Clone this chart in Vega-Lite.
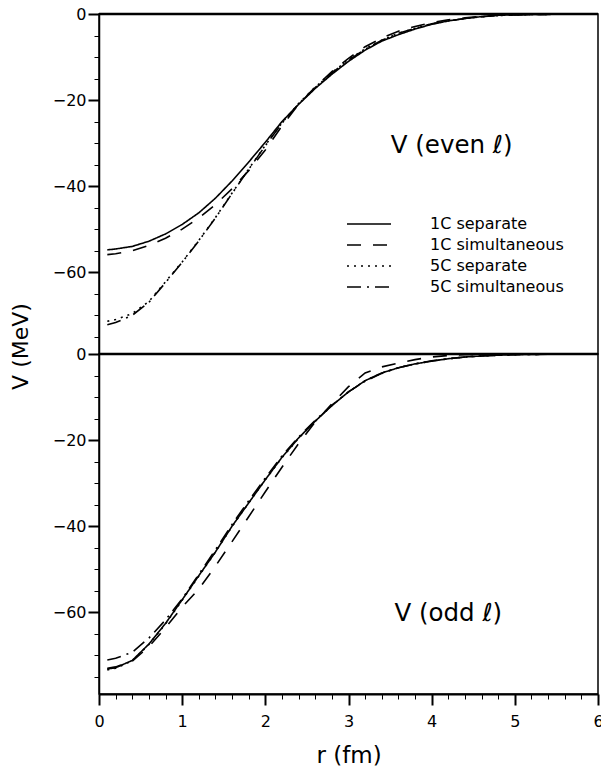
{
  "$schema": "https://vega.github.io/schema/vega-lite/v6.json",
  "autosize": {"type": "pad"},
  "padding": {"left": 8, "top": 5, "right": 2, "bottom": 0},
  "background": "white",
  "config": {
    "font": "DejaVu Sans",
    "view": {"stroke": "black", "strokeWidth": 1.5},
    "axis": {"grid": false, "domainColor": "black", "domainWidth": 1.5, "tickColor": "black", "labelColor": "black", "titleColor": "black", "labelFont": "DejaVu Sans", "titleFont": "DejaVu Sans", "labelFontSize": 16, "titleFontSize": 22, "titleFontWeight": "normal", "tickCount": 100},
    "legend": {"labelFont": "DejaVu Sans", "labelFontSize": 16, "labelColor": "black"}
  },
  "datasets": {
    "even": [
      {"s": "1C separate", "r": 0.1, "V": -54.8}, {"s": "1C separate", "r": 0.2, "V": -54.6}, {"s": "1C separate", "r": 0.4, "V": -54.0}, {"s": "1C separate", "r": 0.6, "V": -52.8}, {"s": "1C separate", "r": 0.8, "V": -51.1}, {"s": "1C separate", "r": 1.0, "V": -48.9}, {"s": "1C separate", "r": 1.2, "V": -46.2}, {"s": "1C separate", "r": 1.4, "V": -42.8}, {"s": "1C separate", "r": 1.6, "V": -38.8}, {"s": "1C separate", "r": 1.8, "V": -34.4}, {"s": "1C separate", "r": 2.0, "V": -29.8}, {"s": "1C separate", "r": 2.2, "V": -25.0}, {"s": "1C separate", "r": 2.4, "V": -21.0}, {"s": "1C separate", "r": 2.6, "V": -17.3}, {"s": "1C separate", "r": 2.8, "V": -14.0}, {"s": "1C separate", "r": 3.0, "V": -11.0}, {"s": "1C separate", "r": 3.2, "V": -8.4}, {"s": "1C separate", "r": 3.4, "V": -6.3}, {"s": "1C separate", "r": 3.6, "V": -4.8}, {"s": "1C separate", "r": 3.8, "V": -3.5}, {"s": "1C separate", "r": 4.0, "V": -2.4}, {"s": "1C separate", "r": 4.2, "V": -1.6}, {"s": "1C separate", "r": 4.4, "V": -1.05}, {"s": "1C separate", "r": 4.6, "V": -0.6}, {"s": "1C separate", "r": 4.8, "V": -0.3}, {"s": "1C separate", "r": 5.0, "V": -0.18}, {"s": "1C separate", "r": 5.4, "V": -0.07}, {"s": "1C separate", "r": 6.0, "V": -0.02},
      {"s": "1C simultaneous", "r": 0.1, "V": -55.9}, {"s": "1C simultaneous", "r": 0.2, "V": -55.7}, {"s": "1C simultaneous", "r": 0.4, "V": -55.0}, {"s": "1C simultaneous", "r": 0.6, "V": -53.8}, {"s": "1C simultaneous", "r": 0.8, "V": -52.1}, {"s": "1C simultaneous", "r": 1.0, "V": -50.0}, {"s": "1C simultaneous", "r": 1.2, "V": -47.4}, {"s": "1C simultaneous", "r": 1.4, "V": -44.3}, {"s": "1C simultaneous", "r": 1.6, "V": -40.6}, {"s": "1C simultaneous", "r": 1.8, "V": -36.4}, {"s": "1C simultaneous", "r": 2.0, "V": -31.6}, {"s": "1C simultaneous", "r": 2.2, "V": -26.0}, {"s": "1C simultaneous", "r": 2.4, "V": -21.0}, {"s": "1C simultaneous", "r": 2.6, "V": -17.0}, {"s": "1C simultaneous", "r": 2.8, "V": -13.4}, {"s": "1C simultaneous", "r": 3.0, "V": -10.3}, {"s": "1C simultaneous", "r": 3.2, "V": -7.6}, {"s": "1C simultaneous", "r": 3.4, "V": -5.6}, {"s": "1C simultaneous", "r": 3.6, "V": -4.0}, {"s": "1C simultaneous", "r": 3.8, "V": -2.9}, {"s": "1C simultaneous", "r": 4.0, "V": -2.0}, {"s": "1C simultaneous", "r": 4.2, "V": -1.35}, {"s": "1C simultaneous", "r": 4.4, "V": -0.9}, {"s": "1C simultaneous", "r": 4.6, "V": -0.55}, {"s": "1C simultaneous", "r": 4.8, "V": -0.3}, {"s": "1C simultaneous", "r": 5.0, "V": -0.15}, {"s": "1C simultaneous", "r": 5.4, "V": -0.06}, {"s": "1C simultaneous", "r": 6.0, "V": -0.02},
      {"s": "5C separate", "r": 0.1, "V": -71.4}, {"s": "5C separate", "r": 0.2, "V": -71.0}, {"s": "5C separate", "r": 0.4, "V": -69.6}, {"s": "5C separate", "r": 0.6, "V": -66.8}, {"s": "5C separate", "r": 0.8, "V": -62.2}, {"s": "5C separate", "r": 1.0, "V": -57.6}, {"s": "5C separate", "r": 1.2, "V": -52.6}, {"s": "5C separate", "r": 1.4, "V": -47.3}, {"s": "5C separate", "r": 1.6, "V": -41.6}, {"s": "5C separate", "r": 1.8, "V": -36.0}, {"s": "5C separate", "r": 2.0, "V": -30.5}, {"s": "5C separate", "r": 2.2, "V": -25.3}, {"s": "5C separate", "r": 2.4, "V": -20.8}, {"s": "5C separate", "r": 2.6, "V": -17.0}, {"s": "5C separate", "r": 2.8, "V": -13.6}, {"s": "5C separate", "r": 3.0, "V": -10.6}, {"s": "5C separate", "r": 3.2, "V": -8.1}, {"s": "5C separate", "r": 3.4, "V": -6.1}, {"s": "5C separate", "r": 3.6, "V": -4.5}, {"s": "5C separate", "r": 3.8, "V": -3.3}, {"s": "5C separate", "r": 4.0, "V": -2.3}, {"s": "5C separate", "r": 4.2, "V": -1.6}, {"s": "5C separate", "r": 4.4, "V": -1.05}, {"s": "5C separate", "r": 4.6, "V": -0.65}, {"s": "5C separate", "r": 4.8, "V": -0.35}, {"s": "5C separate", "r": 5.0, "V": -0.2}, {"s": "5C separate", "r": 5.4, "V": -0.08}, {"s": "5C separate", "r": 6.0, "V": -0.02},
      {"s": "5C simultaneous", "r": 0.1, "V": -72.2}, {"s": "5C simultaneous", "r": 0.2, "V": -71.7}, {"s": "5C simultaneous", "r": 0.4, "V": -70.0}, {"s": "5C simultaneous", "r": 0.6, "V": -67.0}, {"s": "5C simultaneous", "r": 0.8, "V": -62.4}, {"s": "5C simultaneous", "r": 1.0, "V": -57.7}, {"s": "5C simultaneous", "r": 1.2, "V": -52.7}, {"s": "5C simultaneous", "r": 1.4, "V": -47.4}, {"s": "5C simultaneous", "r": 1.6, "V": -41.7}, {"s": "5C simultaneous", "r": 1.8, "V": -36.1}, {"s": "5C simultaneous", "r": 2.0, "V": -30.6}, {"s": "5C simultaneous", "r": 2.2, "V": -25.4}, {"s": "5C simultaneous", "r": 2.4, "V": -20.9}, {"s": "5C simultaneous", "r": 2.6, "V": -17.1}, {"s": "5C simultaneous", "r": 2.8, "V": -13.7}, {"s": "5C simultaneous", "r": 3.0, "V": -10.7}, {"s": "5C simultaneous", "r": 3.2, "V": -8.2}, {"s": "5C simultaneous", "r": 3.4, "V": -6.1}, {"s": "5C simultaneous", "r": 3.6, "V": -4.5}, {"s": "5C simultaneous", "r": 3.8, "V": -3.3}, {"s": "5C simultaneous", "r": 4.0, "V": -2.3}, {"s": "5C simultaneous", "r": 4.2, "V": -1.6}, {"s": "5C simultaneous", "r": 4.4, "V": -1.05}, {"s": "5C simultaneous", "r": 4.6, "V": -0.65}, {"s": "5C simultaneous", "r": 4.8, "V": -0.35}, {"s": "5C simultaneous", "r": 5.0, "V": -0.2}, {"s": "5C simultaneous", "r": 5.4, "V": -0.08}, {"s": "5C simultaneous", "r": 6.0, "V": -0.02}
    ],
    "odd": [
      {"s": "1C separate", "r": 0.1, "V": -73.2}, {"s": "1C separate", "r": 0.2, "V": -72.9}, {"s": "1C separate", "r": 0.4, "V": -71.2}, {"s": "1C separate", "r": 0.6, "V": -67.4}, {"s": "1C separate", "r": 0.8, "V": -62.6}, {"s": "1C separate", "r": 1.0, "V": -57.1}, {"s": "1C separate", "r": 1.2, "V": -51.5}, {"s": "1C separate", "r": 1.4, "V": -46.0}, {"s": "1C separate", "r": 1.6, "V": -40.0}, {"s": "1C separate", "r": 1.8, "V": -34.6}, {"s": "1C separate", "r": 2.0, "V": -29.2}, {"s": "1C separate", "r": 2.2, "V": -24.0}, {"s": "1C separate", "r": 2.4, "V": -19.5}, {"s": "1C separate", "r": 2.6, "V": -15.6}, {"s": "1C separate", "r": 2.8, "V": -12.0}, {"s": "1C separate", "r": 3.0, "V": -8.8}, {"s": "1C separate", "r": 3.2, "V": -6.2}, {"s": "1C separate", "r": 3.4, "V": -4.4}, {"s": "1C separate", "r": 3.6, "V": -3.2}, {"s": "1C separate", "r": 3.8, "V": -2.3}, {"s": "1C separate", "r": 4.0, "V": -1.65}, {"s": "1C separate", "r": 4.2, "V": -1.1}, {"s": "1C separate", "r": 4.4, "V": -0.7}, {"s": "1C separate", "r": 4.6, "V": -0.45}, {"s": "1C separate", "r": 4.8, "V": -0.28}, {"s": "1C separate", "r": 5.0, "V": -0.15}, {"s": "1C separate", "r": 5.4, "V": -0.05}, {"s": "1C separate", "r": 6.0, "V": 0},
      {"s": "1C simultaneous", "r": 0.1, "V": -73.0}, {"s": "1C simultaneous", "r": 0.2, "V": -72.7}, {"s": "1C simultaneous", "r": 0.4, "V": -71.4}, {"s": "1C simultaneous", "r": 0.6, "V": -68.0}, {"s": "1C simultaneous", "r": 0.8, "V": -63.6}, {"s": "1C simultaneous", "r": 1.0, "V": -58.8}, {"s": "1C simultaneous", "r": 1.2, "V": -54.6}, {"s": "1C simultaneous", "r": 1.4, "V": -49.3}, {"s": "1C simultaneous", "r": 1.6, "V": -43.6}, {"s": "1C simultaneous", "r": 1.8, "V": -37.8}, {"s": "1C simultaneous", "r": 2.0, "V": -32.0}, {"s": "1C simultaneous", "r": 2.2, "V": -26.3}, {"s": "1C simultaneous", "r": 2.4, "V": -20.8}, {"s": "1C simultaneous", "r": 2.6, "V": -15.8}, {"s": "1C simultaneous", "r": 2.8, "V": -11.6}, {"s": "1C simultaneous", "r": 3.0, "V": -7.6}, {"s": "1C simultaneous", "r": 3.2, "V": -4.4}, {"s": "1C simultaneous", "r": 3.4, "V": -3.0}, {"s": "1C simultaneous", "r": 3.6, "V": -2.1}, {"s": "1C simultaneous", "r": 3.8, "V": -1.3}, {"s": "1C simultaneous", "r": 4.0, "V": -0.7}, {"s": "1C simultaneous", "r": 4.2, "V": -0.35}, {"s": "1C simultaneous", "r": 4.4, "V": -0.18}, {"s": "1C simultaneous", "r": 4.6, "V": -0.1}, {"s": "1C simultaneous", "r": 5.0, "V": -0.03}, {"s": "1C simultaneous", "r": 6.0, "V": 0},
      {"s": "5C separate", "r": 0.1, "V": -73.4}, {"s": "5C separate", "r": 0.2, "V": -73.0}, {"s": "5C separate", "r": 0.4, "V": -71.3}, {"s": "5C separate", "r": 0.6, "V": -67.5}, {"s": "5C separate", "r": 0.8, "V": -62.7}, {"s": "5C separate", "r": 1.0, "V": -57.2}, {"s": "5C separate", "r": 1.2, "V": -51.6}, {"s": "5C separate", "r": 1.4, "V": -46.0}, {"s": "5C separate", "r": 1.6, "V": -40.1}, {"s": "5C separate", "r": 1.8, "V": -34.6}, {"s": "5C separate", "r": 2.0, "V": -29.2}, {"s": "5C separate", "r": 2.2, "V": -24.1}, {"s": "5C separate", "r": 2.4, "V": -19.6}, {"s": "5C separate", "r": 2.6, "V": -15.6}, {"s": "5C separate", "r": 2.8, "V": -12.0}, {"s": "5C separate", "r": 3.0, "V": -8.8}, {"s": "5C separate", "r": 3.2, "V": -6.2}, {"s": "5C separate", "r": 3.4, "V": -4.4}, {"s": "5C separate", "r": 3.6, "V": -3.2}, {"s": "5C separate", "r": 3.8, "V": -2.3}, {"s": "5C separate", "r": 4.0, "V": -1.65}, {"s": "5C separate", "r": 4.2, "V": -1.1}, {"s": "5C separate", "r": 4.4, "V": -0.7}, {"s": "5C separate", "r": 4.6, "V": -0.45}, {"s": "5C separate", "r": 4.8, "V": -0.28}, {"s": "5C separate", "r": 5.0, "V": -0.15}, {"s": "5C separate", "r": 5.4, "V": -0.05}, {"s": "5C separate", "r": 6.0, "V": 0},
      {"s": "5C simultaneous", "r": 0.1, "V": -71.1}, {"s": "5C simultaneous", "r": 0.2, "V": -70.7}, {"s": "5C simultaneous", "r": 0.4, "V": -69.3}, {"s": "5C simultaneous", "r": 0.6, "V": -66.0}, {"s": "5C simultaneous", "r": 0.8, "V": -61.8}, {"s": "5C simultaneous", "r": 1.0, "V": -56.9}, {"s": "5C simultaneous", "r": 1.2, "V": -51.2}, {"s": "5C simultaneous", "r": 1.4, "V": -45.5}, {"s": "5C simultaneous", "r": 1.6, "V": -39.6}, {"s": "5C simultaneous", "r": 1.8, "V": -34.1}, {"s": "5C simultaneous", "r": 2.0, "V": -28.8}, {"s": "5C simultaneous", "r": 2.2, "V": -23.7}, {"s": "5C simultaneous", "r": 2.4, "V": -19.3}, {"s": "5C simultaneous", "r": 2.6, "V": -15.4}, {"s": "5C simultaneous", "r": 2.8, "V": -11.9}, {"s": "5C simultaneous", "r": 3.0, "V": -8.8}, {"s": "5C simultaneous", "r": 3.2, "V": -6.3}, {"s": "5C simultaneous", "r": 3.4, "V": -4.5}, {"s": "5C simultaneous", "r": 3.6, "V": -3.2}, {"s": "5C simultaneous", "r": 3.8, "V": -2.3}, {"s": "5C simultaneous", "r": 4.0, "V": -1.6}, {"s": "5C simultaneous", "r": 4.2, "V": -1.1}, {"s": "5C simultaneous", "r": 4.4, "V": -0.7}, {"s": "5C simultaneous", "r": 4.6, "V": -0.45}, {"s": "5C simultaneous", "r": 4.8, "V": -0.28}, {"s": "5C simultaneous", "r": 5.0, "V": -0.15}, {"s": "5C simultaneous", "r": 5.4, "V": -0.05}, {"s": "5C simultaneous", "r": 6.0, "V": 0}
    ],
    "labels": [
      {"panel": "even", "r": 4.24, "V": -30.7, "t": "V  (even ℓ)"},
      {"panel": "odd", "r": 4.2, "V": -60.3, "t": "V  (odd ℓ)"}
    ],
    "zero": [{"V": 0}]
  },
  "resolve": {"scale": {"strokeDash": "independent"}, "legend": {"strokeDash": "independent"}},
  "spacing": 0,
  "bounds": "flush",
  "vconcat": [
    {
      "width": 499,
      "height": 340,
      "layer": [
        {
          "data": {"name": "even"},
          "mark": {"type": "line", "color": "black", "strokeWidth": 1.6},
          "encoding": {
            "x": {"field": "r", "type": "quantitative", "scale": {"domain": [0, 6], "nice": false}, "axis": null},
            "y": {"field": "V", "type": "quantitative", "scale": {"domain": [-79, 0], "nice": false, "zero": false},
              "axis": {"values": [0, -5, -10, -15, -20, -25, -30, -35, -40, -45, -50, -55, -60, -65, -70, -75], "tickCount": 100,
                "labelExpr": "datum.value % 20 === 0 ? datum.label : ''",
                "tickSize": {"condition": {"test": "datum.value % 20 === 0", "value": 11}, "value": 5},
                "tickWidth": {"condition": {"test": "datum.value % 20 === 0", "value": 2}, "value": 1},
                "labelPadding": 2, "labelFlush": false, "labelOverlap": false,
                "title": "V  (MeV)", "titleX": -79, "titleY": 332, "titleAlign": "center", "titleBaseline": "middle", "titleAngle": -90}},
            "strokeDash": {"field": "s", "type": "nominal",
              "scale": {"domain": ["1C separate", "1C simultaneous", "5C separate", "5C simultaneous"], "range": [[1, 0], [14, 12], [2, 5], [14, 6, 2, 6]]},
              "legend": {"title": null, "orient": "none", "legendX": 247, "legendY": 202, "symbolType": "stroke", "symbolSize": 1936, "symbolStrokeWidth": 1.5, "symbolStrokeColor": "black", "labelOffset": 38, "clipHeight": 16, "rowPadding": 5, "padding": 0}},
            "detail": {"field": "s"}
          }
        },
        {
          "data": {"name": "zero"},
          "mark": {"type": "rule", "color": "black", "strokeWidth": 2.5},
          "encoding": {"y": {"field": "V", "type": "quantitative"}}
        },
        {
          "data": {"name": "labels"},
          "transform": [{"filter": "datum.panel === 'even'"}],
          "mark": {"type": "text", "fontSize": 24.5, "font": "DejaVu Sans", "color": "black"},
          "encoding": {"x": {"field": "r", "type": "quantitative"}, "y": {"field": "V", "type": "quantitative"}, "text": {"field": "t"}}
        }
      ]
    },
    {
      "width": 499,
      "height": 340,
      "layer": [
        {
          "data": {"name": "odd"},
          "mark": {"type": "line", "color": "black", "strokeWidth": 1.6},
          "encoding": {
            "x": {"field": "r", "type": "quantitative", "scale": {"domain": [0, 6], "nice": false},
              "axis": {"values": [0, 0.2, 0.4, 0.6, 0.8, 1, 1.2, 1.4, 1.6, 1.8, 2, 2.2, 2.4, 2.6, 2.8, 3, 3.2, 3.4, 3.6, 3.8, 4, 4.2, 4.4, 4.6, 4.8, 5, 5.2, 5.4, 5.6, 5.8, 6], "tickCount": 100,
                "labelExpr": "abs(datum.value - round(datum.value)) < 0.01 ? format(datum.value, 'd') : ''",
                "tickSize": {"condition": {"test": "abs(datum.value - round(datum.value)) < 0.01", "value": 11}, "value": 5},
                "tickWidth": {"condition": {"test": "abs(datum.value - round(datum.value)) < 0.01", "value": 2}, "value": 1},
                "labelPadding": 8, "labelFlush": false, "labelOverlap": false,
                "domainWidth": 2,
                "title": "r  (fm)", "titleFontSize": 23, "titlePadding": 15}},
            "y": {"field": "V", "type": "quantitative", "scale": {"domain": [-79, 0], "nice": false, "zero": false},
              "axis": {"values": [0, -5, -10, -15, -20, -25, -30, -35, -40, -45, -50, -55, -60, -65, -70, -75], "tickCount": 100,
                "labelExpr": "datum.value % 20 === 0 ? datum.label : ''",
                "tickSize": {"condition": {"test": "datum.value % 20 === 0", "value": 11}, "value": 5},
                "tickWidth": {"condition": {"test": "datum.value % 20 === 0", "value": 2}, "value": 1},
                "labelPadding": 2, "labelFlush": false, "labelOverlap": false, "title": null}},
            "strokeDash": {"field": "s", "type": "nominal",
              "scale": {"domain": ["1C separate", "1C simultaneous", "5C separate", "5C simultaneous"], "range": [[1, 0], [14, 12], [2, 5], [14, 6, 2, 6]]},
              "legend": null},
            "detail": {"field": "s"}
          }
        },
        {
          "data": {"name": "zero"},
          "mark": {"type": "rule", "color": "black", "strokeWidth": 2.5},
          "encoding": {"y": {"field": "V", "type": "quantitative"}}
        },
        {
          "data": {"name": "labels"},
          "transform": [{"filter": "datum.panel === 'odd'"}],
          "mark": {"type": "text", "fontSize": 24.5, "font": "DejaVu Sans", "color": "black"},
          "encoding": {"x": {"field": "r", "type": "quantitative"}, "y": {"field": "V", "type": "quantitative"}, "text": {"field": "t"}}
        }
      ]
    }
  ]
}
